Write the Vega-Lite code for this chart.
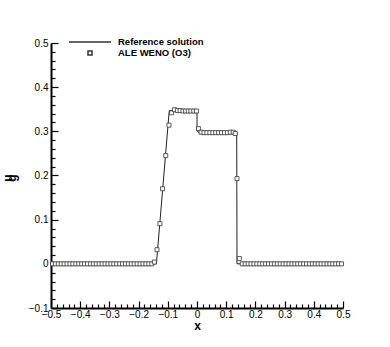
{
  "$schema": "https://vega.github.io/schema/vega-lite/v6.json",
  "width": 292,
  "height": 265,
  "autosize": "none",
  "padding": {"left": 51, "top": 43, "right": 47, "bottom": 39},
  "background": "white",
  "config": {
    "view": {"stroke": null},
    "font": "Liberation Sans",
    "axis": {
      "grid": false,
      "domainColor": "black",
      "domainWidth": 2,
      "tickColor": "black",
      "tickWidth": 1.2,
      "labelFont": "Liberation Sans",
      "labelFontSize": 10,
      "labelColor": "black",
      "labelOverlap": false,
      "labelFlush": false,
      "titleFont": "Liberation Sans",
      "titleFontWeight": "bold",
      "titleColor": "black"
    }
  },
  "datasets": {
    "ref": [
      {"i": 0, "x": -0.5, "y": 0},
      {"i": 1, "x": -0.139, "y": 0},
      {"i": 2, "x": -0.095, "y": 0.347},
      {"i": 3, "x": 0.0, "y": 0.347},
      {"i": 4, "x": 0.0, "y": 0.303},
      {"i": 5, "x": 0.004, "y": 0.298},
      {"i": 6, "x": 0.136, "y": 0.297},
      {"i": 7, "x": 0.137, "y": 0},
      {"i": 8, "x": 0.5, "y": 0}
    ],
    "ale": [
      {"s": "ALE WENO (O3)", "x": -0.495, "y": 0},
      {"s": "ALE WENO (O3)", "x": -0.485, "y": 0},
      {"s": "ALE WENO (O3)", "x": -0.475, "y": 0},
      {"s": "ALE WENO (O3)", "x": -0.465, "y": 0},
      {"s": "ALE WENO (O3)", "x": -0.455, "y": 0},
      {"s": "ALE WENO (O3)", "x": -0.445, "y": 0},
      {"s": "ALE WENO (O3)", "x": -0.435, "y": 0},
      {"s": "ALE WENO (O3)", "x": -0.425, "y": 0},
      {"s": "ALE WENO (O3)", "x": -0.415, "y": 0},
      {"s": "ALE WENO (O3)", "x": -0.405, "y": 0},
      {"s": "ALE WENO (O3)", "x": -0.395, "y": 0},
      {"s": "ALE WENO (O3)", "x": -0.385, "y": 0},
      {"s": "ALE WENO (O3)", "x": -0.375, "y": 0},
      {"s": "ALE WENO (O3)", "x": -0.365, "y": 0},
      {"s": "ALE WENO (O3)", "x": -0.355, "y": 0},
      {"s": "ALE WENO (O3)", "x": -0.345, "y": 0},
      {"s": "ALE WENO (O3)", "x": -0.335, "y": 0},
      {"s": "ALE WENO (O3)", "x": -0.325, "y": 0},
      {"s": "ALE WENO (O3)", "x": -0.315, "y": 0},
      {"s": "ALE WENO (O3)", "x": -0.305, "y": 0},
      {"s": "ALE WENO (O3)", "x": -0.295, "y": 0},
      {"s": "ALE WENO (O3)", "x": -0.285, "y": 0},
      {"s": "ALE WENO (O3)", "x": -0.275, "y": 0},
      {"s": "ALE WENO (O3)", "x": -0.265, "y": 0},
      {"s": "ALE WENO (O3)", "x": -0.255, "y": 0},
      {"s": "ALE WENO (O3)", "x": -0.245, "y": 0},
      {"s": "ALE WENO (O3)", "x": -0.235, "y": 0},
      {"s": "ALE WENO (O3)", "x": -0.225, "y": 0},
      {"s": "ALE WENO (O3)", "x": -0.215, "y": 0},
      {"s": "ALE WENO (O3)", "x": -0.205, "y": 0},
      {"s": "ALE WENO (O3)", "x": -0.195, "y": 0},
      {"s": "ALE WENO (O3)", "x": -0.185, "y": 0},
      {"s": "ALE WENO (O3)", "x": -0.175, "y": 0},
      {"s": "ALE WENO (O3)", "x": -0.165, "y": 0},
      {"s": "ALE WENO (O3)", "x": -0.155, "y": 0},
      {"s": "ALE WENO (O3)", "x": -0.146, "y": 0.004},
      {"s": "ALE WENO (O3)", "x": -0.137, "y": 0.032},
      {"s": "ALE WENO (O3)", "x": -0.127, "y": 0.091},
      {"s": "ALE WENO (O3)", "x": -0.118, "y": 0.170},
      {"s": "ALE WENO (O3)", "x": -0.107, "y": 0.245},
      {"s": "ALE WENO (O3)", "x": -0.096, "y": 0.314},
      {"s": "ALE WENO (O3)", "x": -0.087, "y": 0.342},
      {"s": "ALE WENO (O3)", "x": -0.077, "y": 0.349},
      {"s": "ALE WENO (O3)", "x": -0.067, "y": 0.347},
      {"s": "ALE WENO (O3)", "x": -0.058, "y": 0.347},
      {"s": "ALE WENO (O3)", "x": -0.048, "y": 0.346},
      {"s": "ALE WENO (O3)", "x": -0.039, "y": 0.346},
      {"s": "ALE WENO (O3)", "x": -0.030, "y": 0.346},
      {"s": "ALE WENO (O3)", "x": -0.021, "y": 0.346},
      {"s": "ALE WENO (O3)", "x": -0.011, "y": 0.346},
      {"s": "ALE WENO (O3)", "x": -0.002, "y": 0.346},
      {"s": "ALE WENO (O3)", "x": 0.005, "y": 0.306},
      {"s": "ALE WENO (O3)", "x": 0.014, "y": 0.298},
      {"s": "ALE WENO (O3)", "x": 0.024, "y": 0.297},
      {"s": "ALE WENO (O3)", "x": 0.034, "y": 0.297},
      {"s": "ALE WENO (O3)", "x": 0.044, "y": 0.297},
      {"s": "ALE WENO (O3)", "x": 0.054, "y": 0.297},
      {"s": "ALE WENO (O3)", "x": 0.064, "y": 0.297},
      {"s": "ALE WENO (O3)", "x": 0.074, "y": 0.297},
      {"s": "ALE WENO (O3)", "x": 0.084, "y": 0.297},
      {"s": "ALE WENO (O3)", "x": 0.094, "y": 0.297},
      {"s": "ALE WENO (O3)", "x": 0.104, "y": 0.297},
      {"s": "ALE WENO (O3)", "x": 0.114, "y": 0.298},
      {"s": "ALE WENO (O3)", "x": 0.124, "y": 0.298},
      {"s": "ALE WENO (O3)", "x": 0.131, "y": 0.295},
      {"s": "ALE WENO (O3)", "x": 0.137, "y": 0.193},
      {"s": "ALE WENO (O3)", "x": 0.145, "y": 0.012},
      {"s": "ALE WENO (O3)", "x": 0.155, "y": 0},
      {"s": "ALE WENO (O3)", "x": 0.165, "y": 0},
      {"s": "ALE WENO (O3)", "x": 0.175, "y": 0},
      {"s": "ALE WENO (O3)", "x": 0.185, "y": 0},
      {"s": "ALE WENO (O3)", "x": 0.195, "y": 0},
      {"s": "ALE WENO (O3)", "x": 0.205, "y": 0},
      {"s": "ALE WENO (O3)", "x": 0.215, "y": 0},
      {"s": "ALE WENO (O3)", "x": 0.225, "y": 0},
      {"s": "ALE WENO (O3)", "x": 0.235, "y": 0},
      {"s": "ALE WENO (O3)", "x": 0.245, "y": 0},
      {"s": "ALE WENO (O3)", "x": 0.255, "y": 0},
      {"s": "ALE WENO (O3)", "x": 0.265, "y": 0},
      {"s": "ALE WENO (O3)", "x": 0.275, "y": 0},
      {"s": "ALE WENO (O3)", "x": 0.285, "y": 0},
      {"s": "ALE WENO (O3)", "x": 0.295, "y": 0},
      {"s": "ALE WENO (O3)", "x": 0.305, "y": 0},
      {"s": "ALE WENO (O3)", "x": 0.315, "y": 0},
      {"s": "ALE WENO (O3)", "x": 0.325, "y": 0},
      {"s": "ALE WENO (O3)", "x": 0.335, "y": 0},
      {"s": "ALE WENO (O3)", "x": 0.345, "y": 0},
      {"s": "ALE WENO (O3)", "x": 0.355, "y": 0},
      {"s": "ALE WENO (O3)", "x": 0.365, "y": 0},
      {"s": "ALE WENO (O3)", "x": 0.375, "y": 0},
      {"s": "ALE WENO (O3)", "x": 0.385, "y": 0},
      {"s": "ALE WENO (O3)", "x": 0.395, "y": 0},
      {"s": "ALE WENO (O3)", "x": 0.405, "y": 0},
      {"s": "ALE WENO (O3)", "x": 0.415, "y": 0},
      {"s": "ALE WENO (O3)", "x": 0.425, "y": 0},
      {"s": "ALE WENO (O3)", "x": 0.435, "y": 0},
      {"s": "ALE WENO (O3)", "x": 0.445, "y": 0},
      {"s": "ALE WENO (O3)", "x": 0.455, "y": 0},
      {"s": "ALE WENO (O3)", "x": 0.465, "y": 0},
      {"s": "ALE WENO (O3)", "x": 0.475, "y": 0},
      {"s": "ALE WENO (O3)", "x": 0.485, "y": 0},
      {"s": "ALE WENO (O3)", "x": 0.495, "y": 0}
    ]
  },
  "encoding": {
    "x": {
      "field": "x",
      "type": "quantitative",
      "scale": {"domain": [-0.5, 0.5], "nice": false, "zero": false},
      "axis": {
        "title": "x",
        "titleFontSize": 12,
        "titlePadding": -2,
        "values": [-0.5,-0.48,-0.46,-0.44,-0.42,-0.4,-0.38,-0.36,-0.34,-0.32,-0.3,-0.28,-0.26,-0.24,-0.22,-0.2,-0.18,-0.16,-0.14,-0.12,-0.1,-0.08,-0.06,-0.04,-0.02,0,0.02,0.04,0.06,0.08,0.1,0.12,0.14,0.16,0.18,0.2,0.22,0.24,0.26,0.28,0.3,0.32,0.34,0.36,0.38,0.4,0.42,0.44,0.46,0.48,0.5],
        "tickSize": {"condition": {"test": "abs(datum.value*10 - round(datum.value*10)) < 1e-6", "value": -7}, "value": -4},
        "labelExpr": "abs(datum.value*10 - round(datum.value*10)) < 1e-6 ? format(datum.value, '.1~f') : ''",
        "labelPadding": 8
      }
    },
    "y": {
      "field": "y",
      "type": "quantitative",
      "scale": {"domain": [-0.1, 0.5], "nice": false, "zero": false},
      "axis": {
        "title": ["u", "\u00a0\u00a0\u00a0\u00a0\u00a0g"],
        "titleFontSize": 12,
        "titleLineHeight": 4,
        "titleX": -37,
        "titleY": 134.5,
        "values": [-0.1,-0.08,-0.06,-0.04,-0.02,0,0.02,0.04,0.06,0.08,0.1,0.12,0.14,0.16,0.18,0.2,0.22,0.24,0.26,0.28,0.3,0.32,0.34,0.36,0.38,0.4,0.42,0.44,0.46,0.48,0.5],
        "tickSize": {"condition": {"test": "abs(datum.value*10 - round(datum.value*10)) < 1e-6", "value": -7}, "value": -4},
        "labelExpr": "abs(datum.value*10 - round(datum.value*10)) < 1e-6 ? format(datum.value, '.1~f') : ''",
        "labelPadding": 10
      }
    }
  },
  "layer": [
    {
      "data": {"name": "ref"},
      "mark": {"type": "line", "color": "#222222", "strokeWidth": 1},
      "encoding": {"order": {"field": "i", "type": "quantitative"}}
    },
    {
      "data": {"name": "ale"},
      "mark": {"type": "point", "size": 100, "filled": false, "fill": "white", "fillOpacity": 1, "stroke": "#333333", "strokeWidth": 0.8, "opacity": 1},
      "encoding": {
        "shape": {
          "field": "s",
          "type": "nominal",
          "scale": {"domain": ["Reference solution", "ALE WENO (O3)"], "range": ["M-4.2,0H4.2", "M-0.4,-0.4H0.4V0.4H-0.4Z"]},
          "legend": {
            "title": null,
            "orient": "none",
            "legendX": 33,
            "legendY": -7,
            "labelOffset": 22,
            "labelFont": "Liberation Sans",
            "labelFontSize": 9.5,
            "labelFontWeight": "bold",
            "labelColor": "black",
            "rowPadding": -2
          }
        }
      }
    }
  ]
}
